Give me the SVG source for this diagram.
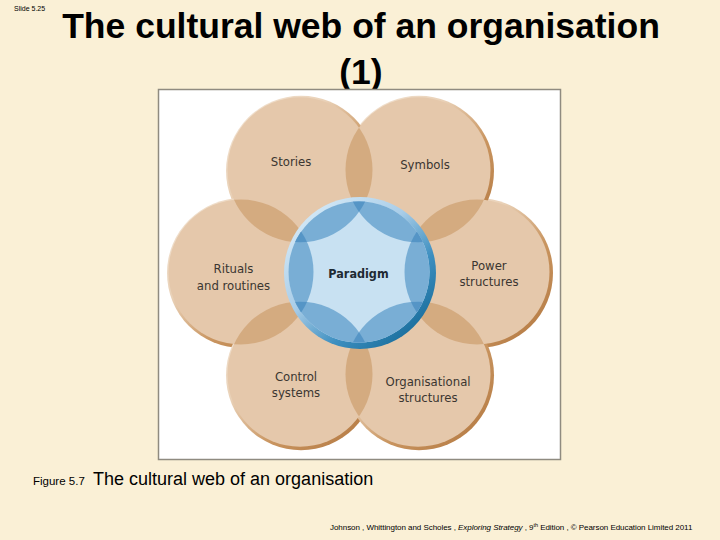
<svg xmlns="http://www.w3.org/2000/svg" width="720" height="540" viewBox="0 0 720 540">
<style>
.bg{fill:#faf0d6}
.title{font-family:"Liberation Sans",Arial,sans-serif;font-weight:bold;font-size:35.5px;fill:#000;text-anchor:middle}
.lbl{font-family:"DejaVu Sans Condensed","DejaVu Sans",sans-serif;font-stretch:condensed;font-size:13px;fill:#3b3631;text-anchor:middle}
.par{font-family:"DejaVu Sans Condensed","DejaVu Sans",sans-serif;font-stretch:condensed;font-weight:bold;font-size:12.5px;fill:#1e2a33;text-anchor:middle}
.tan{fill:#e5c8ab}
.rim{fill:url(#rimG)}
.lens{fill:#d4ab80}
.blue{fill:#79aed5}
.dblue{fill:#5595c6}
.sm{font-family:"Liberation Sans",Arial,sans-serif;fill:#000}
</style>
<defs>
<linearGradient id="rimG" x1="0" y1="0" x2="1" y2="1">
<stop offset="0" stop-color="#f4e8da"/>
<stop offset="0.35" stop-color="#e9d1b7"/>
<stop offset="0.62" stop-color="#c99560"/>
<stop offset="1" stop-color="#b0743c"/>
</linearGradient>
<linearGradient id="parG" x1="0.12" y1="0.08" x2="0.88" y2="0.92">
<stop offset="0" stop-color="#d6eaf7"/>
<stop offset="0.4" stop-color="#a9cde8"/>
<stop offset="0.7" stop-color="#3d8fc0"/>
<stop offset="1" stop-color="#176b99"/>
</linearGradient>
<clipPath id="cP"><circle cx="477" cy="272" r="72.5"/></clipPath>
<clipPath id="cY"><circle cx="418" cy="169.8" r="72.5"/></clipPath>
<clipPath id="cS"><circle cx="300" cy="169.8" r="72.5"/></clipPath>
<clipPath id="cR"><circle cx="241" cy="272" r="72.5"/></clipPath>
<clipPath id="cC"><circle cx="300" cy="374.2" r="72.5"/></clipPath>
<clipPath id="cO"><circle cx="418" cy="374.2" r="72.5"/></clipPath>
<clipPath id="cPar"><circle cx="359" cy="272" r="70.5"/></clipPath>
</defs>
<rect class="bg" x="0" y="0" width="720" height="540"/>
<text class="sm" x="14" y="11" font-size="7">Slide 5.25</text>
<text class="title" x="361" y="38">The cultural web of an organisation</text>
<text class="title" x="361" y="84">(1)</text>
<rect x="158.5" y="89.5" width="402" height="370" fill="#ffffff" stroke="#8f8b80" stroke-width="1.5"/>
<g id="web-rims">
<circle class="rim" cx="478" cy="273" r="75"/>
<circle class="rim" cx="419" cy="170.8" r="75"/>
<circle class="rim" cx="301" cy="170.8" r="75"/>
<circle class="rim" cx="242" cy="273" r="75"/>
<circle class="rim" cx="301" cy="375.2" r="75"/>
<circle class="rim" cx="419" cy="375.2" r="75"/>
</g>
<g id="node-stories">
<circle class="tan" cx="300" cy="169.8" r="72.5"/>
<text class="lbl" x="291" y="166">Stories</text>
</g>
<g id="node-symbols">
<circle class="tan" cx="418" cy="169.8" r="72.5"/>
<text class="lbl" x="425" y="169">Symbols</text>
</g>
<g id="node-power">
<circle class="tan" cx="477" cy="272" r="72.5"/>
<text class="lbl" x="489" y="270">Power</text>
<text class="lbl" x="489" y="286">structures</text>
</g>
<g id="node-organisational">
<circle class="tan" cx="418" cy="374.2" r="72.5"/>
<text class="lbl" x="428" y="386">Organisational</text>
<text class="lbl" x="428" y="402">structures</text>
</g>
<g id="node-control">
<circle class="tan" cx="300" cy="374.2" r="72.5"/>
<text class="lbl" x="296" y="381">Control</text>
<text class="lbl" x="296" y="397">systems</text>
</g>
<g id="node-rituals">
<circle class="tan" cx="241" cy="272" r="72.5"/>
<text class="lbl" x="233.5" y="273">Rituals</text>
<text class="lbl" x="233.5" y="290">and routines</text>
</g>
<g id="connectors">
<circle class="lens" cx="418" cy="169.8" r="72.5" clip-path="url(#cS)"/>
<circle class="lens" cx="477" cy="272" r="72.5" clip-path="url(#cY)"/>
<circle class="lens" cx="418" cy="374.2" r="72.5" clip-path="url(#cP)"/>
<circle class="lens" cx="300" cy="374.2" r="72.5" clip-path="url(#cO)"/>
<circle class="lens" cx="241" cy="272" r="72.5" clip-path="url(#cC)"/>
<circle class="lens" cx="300" cy="169.8" r="72.5" clip-path="url(#cR)"/>
</g>
<g id="node-paradigm">
<circle cx="360" cy="273" r="76" fill="url(#parG)"/>
<circle cx="359" cy="272" r="70.5" fill="#c8e1f2"/>
<g clip-path="url(#cPar)">
<circle class="blue" cx="477" cy="272" r="72.5"/>
<circle class="blue" cx="418" cy="169.8" r="72.5"/>
<circle class="blue" cx="300" cy="169.8" r="72.5"/>
<circle class="blue" cx="241" cy="272" r="72.5"/>
<circle class="blue" cx="300" cy="374.2" r="72.5"/>
<circle class="blue" cx="418" cy="374.2" r="72.5"/>
<circle class="dblue" cx="418" cy="169.8" r="72.5" clip-path="url(#cS)"/>
<circle class="dblue" cx="477" cy="272" r="72.5" clip-path="url(#cY)"/>
<circle class="dblue" cx="418" cy="374.2" r="72.5" clip-path="url(#cP)"/>
<circle class="dblue" cx="300" cy="374.2" r="72.5" clip-path="url(#cO)"/>
<circle class="dblue" cx="241" cy="272" r="72.5" clip-path="url(#cC)"/>
<circle class="dblue" cx="300" cy="169.8" r="72.5" clip-path="url(#cR)"/>
</g>
<text class="par" x="358.5" y="278">Paradigm</text>
</g>
<text class="sm" x="33" y="485" font-size="11.5">Figure 5.7</text>
<text class="sm" x="93" y="485" font-size="18">The cultural web of an organisation</text>
<text class="sm" x="330" y="530" font-size="8" letter-spacing="-0.05">Johnson , Whittington and Scholes , <tspan font-style="italic">Exploring Strategy</tspan> , 9<tspan font-size="5.5" dy="-3">th</tspan><tspan dy="3"> Edition , © Pearson Education Limited 2011</tspan></text>
</svg>
